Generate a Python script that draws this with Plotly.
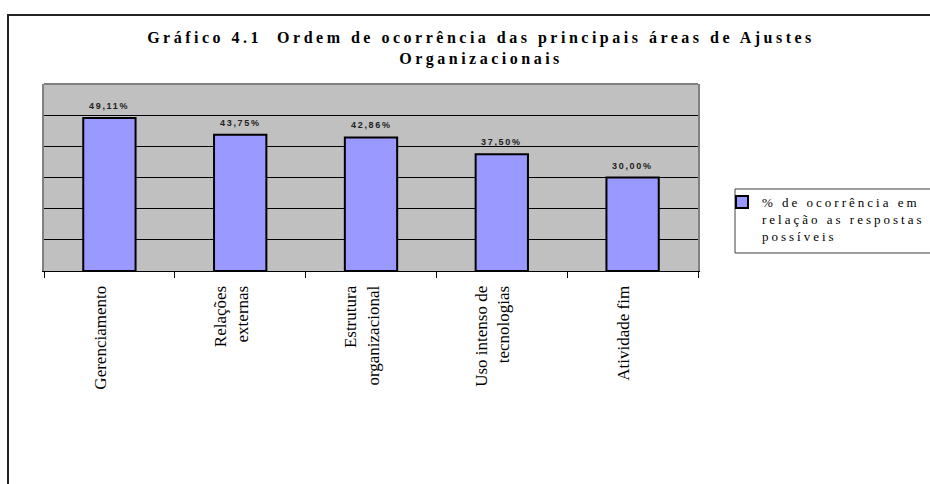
import plotly.graph_objects as go

categories = ["Gerenciamento", "Relações<br>externas", "Estrutura<br>organizacional",
              "Uso intenso de<br>tecnologias", "Atividade fim"]
values = [49.11, 43.75, 42.86, 37.50, 30.00]
series_name = "% de ocorrência em<br>relação as respostas<br>possíveis"
title_lines = ["Gráfico 4.1  Ordem de ocorrência das principais áreas de Ajustes",
               "Organizacionais"]

BAR = "#9999FF"
PLOT_BG = "#C0C0C0"

# plot area in pixels
PL, PR, PT, PB = 44, 698, 84, 271
def px_x(p):
    return (p - PL) / (PR - PL)
def px_y(p):
    return (PB - p) / (PB - PT)

fig = go.Figure()
fig.add_trace(go.Bar(
    x=categories, y=values,
    name=f"<span style='letter-spacing:3px'>{series_name}</span>",
    marker=dict(color=BAR, line=dict(color="black", width=2)),
    width=0.4, showlegend=True,
))

for c, v in zip(categories, values):
    label = f"{v:.2f}".replace(".", ",") + "%"
    fig.add_annotation(x=c, y=v, xref="x", yref="y", yanchor="bottom", yshift=5,
                       showarrow=False,
                       text=f"<span style='letter-spacing:1.7px'><b>{label}</b></span>",
                       font=dict(family="Liberation Sans, Arial", size=9, color="#222222"))

title_html = "<br>".join(f"<span style='letter-spacing:3.5px'>{t}</span>" for t in title_lines)

fig.update_layout(
    width=930, height=484,
    margin=dict(l=PL, r=930 - PR, t=PT, b=484 - PB, autoexpand=False),
    paper_bgcolor="white", plot_bgcolor=PLOT_BG,
    title=dict(text=f"<b>{title_html}</b>", x=481 / 930, xanchor="center",
               y=1 - 43 / 484, yanchor="middle",
               font=dict(family="Liberation Serif, Times New Roman", size=16, color="black")),
    legend=dict(x=px_x(722), y=px_y(187), xanchor="left", yanchor="top",
                bgcolor="rgba(0,0,0,0)", borderwidth=0,
                valign="top", itemwidth=30,
                font=dict(family="Liberation Serif, Times New Roman", size=13, color="black")),
    showlegend=True,
)

fig.update_xaxes(type="category", showline=True, linecolor="black", linewidth=1,
                 ticks="outside", tickson="boundaries", ticklen=6, tickcolor="black",
                 tickangle=-90, showgrid=False, ticklabelstandoff=7, ticklabelshift=-9,
                 tickfont=dict(family="Liberation Serif, Times New Roman", size=17, color="black"))
fig.update_yaxes(range=[0, 60], tickvals=[10, 20, 30, 40, 50], showticklabels=False,
                 showgrid=True, gridcolor="black", gridwidth=1, zeroline=False,
                 showline=True, linecolor="#808080", linewidth=2, mirror=True, ticks="")

# plot area top border
fig.add_shape(type="line", xref="paper", yref="paper", x0=0, x1=1, y0=1, y1=1,
              line=dict(color="#808080", width=2))
# legend frame
fig.add_shape(type="rect", xref="paper", yref="paper", layer="below",
              x0=px_x(735), x1=px_x(945), y0=px_y(253), y1=px_y(189),
              fillcolor="white", line=dict(color="#404040", width=1))
# outer chart frame (left and top edges visible)
fig.add_shape(type="path", xref="paper", yref="paper",
              path=f"M {px_x(8)} {px_y(495)} L {px_x(8)} {px_y(15)} L {px_x(945)} {px_y(15)}",
              line=dict(color="#222222", width=2))

fig.write_html("out.html", config={"displayModeBar": False},
               post_script="document.body.style.margin='0';")
